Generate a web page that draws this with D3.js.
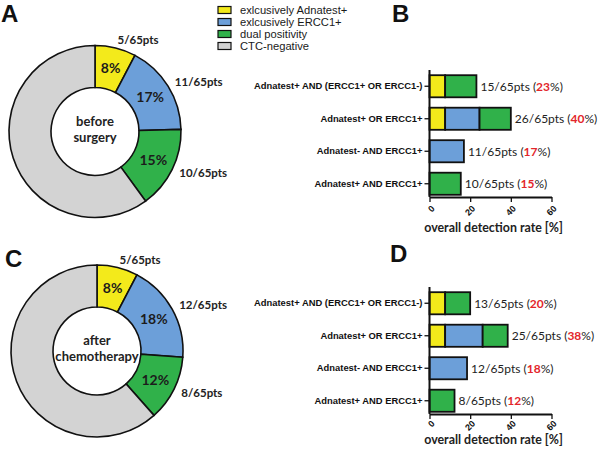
<!DOCTYPE html>
<html>
<head>
<meta charset="utf-8">
<script src="https://cdn.jsdelivr.net/npm/d3@7"></script>
<style>
  body { margin: 0; background: #fff; }
  svg { display: block; }
</style>
</head>
<body>
<div id="chart"></div>
<script>
// data (patients out of 65)
const totalPts = 65;
const groups = ["exlcusively Adnatest+", "exlcusively ERCC1+", "dual positivity", "CTC-negative"];
const groupColors = ["#f3ea1b", "#6c9fd9", "#30b14a", "#d3d3d3"];
const beforeCounts = [5, 11, 10, 39];
const afterCounts = [5, 12, 8, 40];
const categories = ["Adnatest+ AND (ERCC1+ OR ERCC1-)", "Adnatest+ OR ERCC1+", "Adnatest- AND ERCC1+", "Adnatest+ AND ERCC1+"];
// which legend groups make up each bar, in stacking order
const barGroups = [[0, 2], [0, 1, 2], [1], [2]];
const xTicks = [0, 20, 40, 60];
const centerBefore = ["before", "surgery"];
const centerAfter = ["after", "chemotherapy"];

const W = 600, H = 452;
const sans = "Lato, 'Open Sans', sans-serif";
const arial = "'Liberation Sans', Arial, sans-serif";

const svg = d3.select("#chart").append("svg")
    .attr("width", W)
    .attr("height", H)
    .attr("viewBox", `0 0 ${W} ${H}`);

const color = d3.scaleOrdinal().domain(groups).range(groupColors);
const pct = n => Math.round(n / totalPts * 100);

function drawDonut(cx, cy, counts, centerLines){
    const g = svg.append("g").attr("transform", `translate(${cx},${cy})`);
    const pie = d3.pie().sort(null).value(d => d);
    const arc = d3.arc().innerRadius(44).outerRadius(86);
    const labelArc = d3.arc().innerRadius(94).outerRadius(94);
    const arcs = pie(counts);

    g.selectAll("path")
        .data(arcs)
        .enter().append("path")
        .attr("d", arc)
        .attr("fill", (d, i) => groupColors[i])
        .attr("stroke", "#111")
        .attr("stroke-width", 1.6);

    const shown = arcs.slice(0, 3);
    g.selectAll("text.pct")
        .data(shown)
        .enter().append("text")
        .attr("class", "pct")
        .attr("transform", d => `translate(${arc.centroid(d)})`)
        .attr("text-anchor", "middle")
        .attr("dy", "0.36em")
        .attr("font-family", sans)
        .attr("font-weight", "bold")
        .attr("font-size", 14)
        .attr("fill", "#1c1c1c")
        .text(d => pct(d.value) + "%");

    g.selectAll("text.pts")
        .data(shown)
        .enter().append("text")
        .attr("class", "pts")
        .attr("transform", d => `translate(${labelArc.centroid(d)})`)
        .attr("dy", "0.35em")
        .attr("font-family", sans)
        .attr("font-weight", "bold")
        .attr("font-size", 11.5)
        .attr("fill", "#222")
        .text(d => `${d.value}/${totalPts}pts`);

    g.append("text")
        .attr("text-anchor", "middle")
        .attr("font-family", sans)
        .attr("font-weight", "bold")
        .attr("font-size", 13)
        .attr("fill", "#222")
        .selectAll("tspan")
        .data(centerLines)
        .enter().append("tspan")
        .attr("x", 0)
        .attr("y", (d, i) => -6 + i * 16)
        .text(d => d);
}

function drawBars(top, counts, tickDrop, titleY){
    const x = d3.scaleLinear().domain([0, 60]).range([429.5, 551.5]);
    const y = d3.scaleBand().domain(categories).range([top, top + 130])
        .paddingInner(0.32).paddingOuter(0.16);
    const axisY = top + 127;

    const rows = categories.map((c, i) => {
        let cum = 0;
        const segs = barGroups[i].map(gi => {
            const v = counts[gi] / totalPts * 100;
            const s = {cat: c, group: gi, x0: cum, x1: cum + v};
            cum += v;
            return s;
        });
        const n = barGroups[i].reduce((a, gi) => a + counts[gi], 0);
        return {cat: c, segs, total: cum, n};
    });

    const g = svg.append("g");

    g.selectAll("g.row")
        .data(rows)
        .enter().append("g")
        .attr("class", "row")
        .selectAll("rect")
        .data(d => d.segs)
        .enter().append("rect")
        .attr("x", d => x(d.x0))
        .attr("y", d => y(d.cat))
        .attr("width", d => x(d.x1) - x(d.x0))
        .attr("height", y.bandwidth())
        .attr("fill", d => groupColors[d.group])
        .attr("stroke", "#111")
        .attr("stroke-width", 1.8);

    const lab = g.selectAll("text.val")
        .data(rows)
        .enter().append("text")
        .attr("class", "val")
        .attr("x", d => x(d.total) + 4)
        .attr("y", d => y(d.cat) + y.bandwidth() / 2)
        .attr("dy", "0.36em")
        .attr("font-family", sans)
        .attr("font-size", 12)
        .attr("fill", "#222");
    lab.append("tspan").text(d => `${d.n}/${totalPts}pts (`);
    lab.append("tspan").attr("fill", "#e3262b").attr("font-weight", "bold").text(d => pct(d.n));
    lab.append("tspan").text("%)");

    // y axis
    const ya = g.append("g")
        .attr("transform", `translate(${x(0)},0)`)
        .call(d3.axisLeft(y).tickSize(5).tickSizeOuter(0));
    ya.select(".domain").remove();
    ya.selectAll(".tick line").attr("stroke", "#111").attr("stroke-width", 1.3);
    ya.selectAll(".tick text")
        .attr("x", -7)
        .attr("font-family", arial)
        .attr("font-weight", "bold")
        .attr("font-size", 9.4)
        .attr("fill", "#111");
    g.append("line")
        .attr("x1", x(0)).attr("x2", x(0))
        .attr("y1", top).attr("y2", axisY)
        .attr("stroke", "#111")
        .attr("stroke-width", 2);

    // x axis
    const xa = g.append("g")
        .attr("transform", `translate(0,${axisY})`)
        .call(d3.axisBottom(x).tickValues(xTicks).tickSize(5).tickSizeOuter(0));
    xa.select(".domain").attr("stroke", "#111").attr("stroke-width", 2);
    xa.selectAll(".tick line").attr("stroke", "#111").attr("stroke-width", 1.3);
    xa.selectAll(".tick text")
        .attr("x", 0)
        .attr("y", 0)
        .attr("dy", "0.35em")
        .attr("font-family", arial)
        .attr("font-weight", "bold")
        .attr("font-size", 9)
        .attr("fill", "#111")
        .attr("text-anchor", "end")
        .attr("transform", `translate(3,${tickDrop}) rotate(-45)`);

    g.append("text")
        .attr("x", (x(0) + x(60)) / 2 + 3)
        .attr("y", titleY)
        .attr("dy", "0.35em")
        .attr("text-anchor", "middle")
        .attr("font-family", sans)
        .attr("font-weight", "bold")
        .attr("font-size", 12.4)
        .attr("fill", "#222")
        .text("overall detection rate [%]");
}

// legend
const legend = svg.append("g").attr("transform", "translate(218,10)");
const li = legend.selectAll("g")
    .data(groups)
    .enter().append("g")
    .attr("transform", (d, i) => `translate(0,${i * 12})`);
li.append("rect")
    .attr("x", 0).attr("y", -3.5)
    .attr("width", 13).attr("height", 7)
    .attr("fill", d => color(d))
    .attr("stroke", "#111")
    .attr("stroke-width", 1.2);
li.append("text")
    .attr("x", 22)
    .attr("dy", "0.36em")
    .attr("font-family", arial)
    .attr("font-size", 11.2)
    .attr("fill", "#1a1a1a")
    .text(d => d);

// panel letters
const letters = [["A", 1, 22], ["B", 392, 22], ["C", 5, 267], ["D", 390, 262]];
svg.selectAll("text.letter")
    .data(letters)
    .enter().append("text")
    .attr("class", "letter")
    .attr("x", d => d[1])
    .attr("y", d => d[2])
    .attr("font-family", arial)
    .attr("font-weight", "bold")
    .attr("font-size", 24)
    .attr("fill", "#111")
    .text(d => d[0]);

drawDonut(95, 131.5, beforeCounts, centerBefore);
drawDonut(97, 351, afterCounts, centerAfter);
drawBars(70, beforeCounts, 10, 228);
drawBars(287, afterCounts, 8, 440);
</script>
</body>
</html>
